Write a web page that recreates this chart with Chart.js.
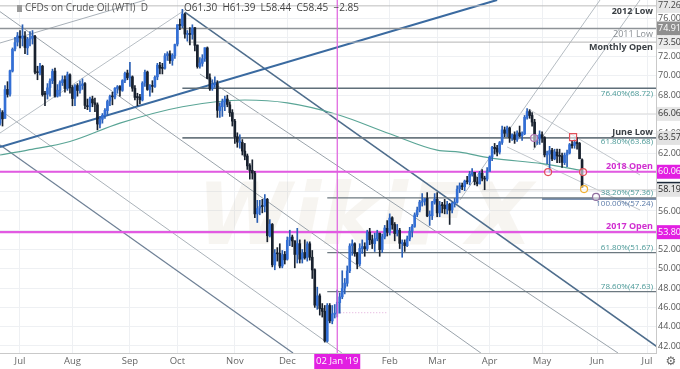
<!DOCTYPE html>
<html><head><meta charset="utf-8">
<script src="https://cdn.jsdelivr.net/npm/chart.js@4.4.1/dist/chart.umd.min.js"></script>
<style>html,body{margin:0;padding:0;background:#fff;}#wrap{width:680px;height:369px;position:relative;}</style>
</head><body><div id="wrap"><canvas id="c" width="680" height="369"></canvas></div>
<script>
// ---- DATA (daily OHLC; bar index 0 = 02 Jul 2018) ----
const firstBar = -9;
const jun18 = [[65.8,66.0,64.4,65.07],[65.1,66.6,64.9,66.22],[66.2,66.4,64.8,65.54],[65.6,69.0,65.6,68.58],[68.6,69.4,67.8,68.08],[68.1,70.6,67.9,70.53],[70.5,72.9,70.4,72.76],[72.8,74.0,72.6,73.45],[73.5,74.5,73.1,74.15]];
const jul18 = [[74.1,74.7,72.9,73.94],[73.9,75.3,73.1,74.14],[74.1,74.6,72.3,72.94],[72.9,74.0,72.2,73.80],[73.8,74.6,73.1,73.85],[73.9,74.7,73.3,74.11],[74.1,74.2,70.2,70.38],[70.4,71.0,69.6,70.33],[70.3,71.3,70.1,71.01],[71.0,71.1,67.9,68.06],[68.1,68.4,66.9,68.08],[68.1,69.2,67.6,68.76],[68.8,69.7,67.9,69.46],[69.5,70.7,69.2,70.46],[70.5,70.8,67.8,67.89],[67.9,69.1,67.8,68.52],[68.5,69.5,67.9,69.30],[69.3,70.0,69.0,69.61],[69.6,70.0,68.3,68.69],[68.7,70.4,68.5,70.13],[70.1,70.2,68.2,68.76]];
const aug18 = [[68.8,69.0,66.9,67.66],[67.7,69.1,66.9,68.96],[69.0,69.2,67.9,68.49],[68.5,69.5,68.2,69.01],[69.0,69.7,68.6,69.17],[69.2,69.3,66.6,66.94],[66.9,67.6,66.5,66.81],[66.8,67.8,66.3,67.63],[67.6,67.9,66.8,67.20],[67.2,67.7,66.3,67.04],[67.0,67.2,64.4,65.01],[65.0,65.8,64.6,65.46],[65.5,66.1,65.1,65.91],[65.9,66.6,65.6,66.43],[66.4,67.5,65.9,67.35],[67.4,68.0,66.9,67.86],[67.9,68.3,67.0,67.83],[67.8,68.8,67.6,68.72],[68.7,69.0,68.2,68.87],[68.9,69.0,67.9,68.53],[68.5,69.6,68.4,69.51],[69.5,70.4,69.3,70.25],[70.3,70.6,69.6,69.80]];
const sep18 = [[69.8,71.4,68.9,69.87],[69.9,70.0,68.4,68.72],[68.7,69.0,67.5,67.77],[67.8,68.2,66.9,67.75],[67.8,68.1,67.1,67.54],[67.5,69.4,67.4,69.25],[69.3,70.6,68.9,70.37],[70.4,70.5,68.5,68.59],[68.6,69.1,67.9,68.99],[69.0,69.5,68.3,68.91],[68.9,70.0,68.8,69.85],[69.9,71.3,69.6,71.12],[71.1,71.4,70.2,70.80],[70.8,71.3,70.2,70.78],[70.8,72.3,70.7,72.08],[72.1,72.5,71.6,72.28],[72.3,72.6,71.3,71.57],[71.6,72.3,71.1,72.12],[72.1,73.3,71.8,73.25]];
const oct18 = [[73.3,75.3,73.1,75.30],[75.3,75.9,74.8,75.23],[75.2,76.9,75.0,76.41],[76.4,76.5,73.9,74.33],[74.3,74.7,73.6,74.34],[74.3,75.0,73.2,74.29],[74.3,75.3,73.8,74.96],[75.0,75.0,72.6,73.17],[73.2,73.2,70.8,70.97],[71.0,71.9,70.8,71.34],[71.3,72.2,71.0,71.78],[71.8,72.9,71.5,72.92],[72.9,73.0,69.7,69.75],[69.8,70.2,68.5,68.65],[68.7,69.6,68.5,69.12],[69.1,69.9,68.8,69.17],[69.2,69.5,65.7,66.43],[66.4,67.2,65.7,66.82],[66.8,67.6,65.8,67.33],[67.3,67.9,66.4,67.59],[67.6,68.0,66.8,67.04],[67.0,67.3,65.8,66.18],[66.2,66.5,64.8,65.31]];
const nov18 = [[65.3,65.5,63.0,63.69],[63.7,64.1,62.6,63.14],[63.1,63.9,62.5,63.10],[63.1,63.4,61.8,62.21],[62.2,63.0,61.3,61.67],[61.7,61.9,60.3,60.67],[60.7,60.9,59.3,60.19],[60.2,61.3,59.3,59.93],[59.9,60.1,55.3,55.69],[55.7,57.1,54.8,56.25],[56.3,57.1,55.6,56.46],[56.5,57.2,55.8,56.46],[56.5,57.7,55.9,57.20],[57.2,57.3,52.8,53.43],[53.4,55.1,53.3,54.63],[54.6,54.7,50.2,50.42],[50.4,52.0,49.9,51.63],[51.6,52.2,50.8,51.56],[51.6,52.6,50.1,50.29],[50.3,51.9,50.1,51.45],[51.5,51.8,50.5,50.93]];
const dec18 = [[51.0,53.3,50.9,52.95],[53.0,54.0,52.4,53.25],[53.3,53.5,52.3,52.89],[52.9,52.9,50.1,51.49],[51.5,54.2,50.6,52.61],[52.6,53.0,50.6,51.00],[51.0,52.0,50.6,51.65],[51.7,53.0,51.0,51.15],[51.2,52.8,50.8,52.58],[52.6,52.8,50.9,51.20],[51.2,51.9,49.0,49.88],[49.9,50.0,46.0,46.24],[46.2,48.1,45.8,47.20],[47.2,47.4,45.2,45.88],[45.9,46.4,45.0,45.59],[45.6,46.2,42.4,42.53],[42.5,46.4,42.4,46.22],[46.2,46.4,44.4,44.61],[44.6,46.2,44.3,45.33],[45.3,46.3,44.9,45.41]];
const jan19 = [[45.4,47.8,45.0,46.54],[46.5,47.5,45.4,47.09],[47.1,49.8,46.9,47.96],[48.0,49.0,47.4,48.52],[48.5,50.3,48.2,49.78],[49.8,52.6,49.6,52.36],[52.4,53.0,51.4,52.59],[52.6,52.7,51.3,51.59],[51.6,51.7,50.0,50.51],[50.5,52.6,50.3,52.11],[52.1,53.0,51.6,52.31],[52.3,52.7,51.3,52.07],[52.1,54.0,51.9,53.80],[53.8,54.2,52.5,53.01],[53.0,53.5,52.1,52.62],[52.6,53.7,51.8,53.13],[53.1,54.0,52.9,53.69],[53.7,53.7,51.3,51.99],[52.0,53.6,51.7,53.31],[53.3,54.5,53.1,54.23],[54.2,55.0,53.4,53.79]];
const feb19 = [[53.8,55.7,53.5,55.26],[55.3,55.4,54.1,54.56],[54.6,54.8,52.9,53.66],[53.7,54.6,53.4,54.01],[54.0,54.2,52.1,52.64],[52.6,53.0,51.2,52.72],[52.7,53.0,51.8,52.41],[52.4,53.4,52.3,53.10],[53.1,54.3,52.9,53.90],[53.9,54.6,53.3,54.41],[54.4,55.8,54.3,55.59],[55.6,56.4,55.4,56.09],[56.1,57.1,55.9,56.92],[56.9,57.8,56.5,56.96],[57.0,57.3,56.6,57.26],[57.3,57.9,55.4,55.48],[55.5,56.0,54.5,55.50],[55.5,57.0,55.1,56.94],[56.9,57.8,56.7,57.22]];
const mar19 = [[57.2,57.9,55.4,55.80],[55.8,57.0,55.4,56.59],[56.6,56.9,55.8,56.56],[56.6,57.2,55.7,56.22],[56.2,57.0,55.7,56.66],[56.7,56.8,54.6,56.07],[56.1,56.9,55.8,56.79],[56.8,57.3,56.4,56.87],[56.9,58.6,56.8,58.26],[58.3,58.9,57.9,58.61],[58.6,58.9,58.2,58.52],[58.5,59.2,58.1,59.09],[59.1,59.6,58.8,59.03],[59.0,60.1,58.7,59.83],[59.8,60.4,59.6,59.98],[60.0,60.0,58.7,59.04],[59.0,59.5,58.6,58.82],[58.8,60.1,58.8,59.94],[59.9,60.3,59.1,59.41],[59.4,59.6,58.2,59.30],[59.3,60.5,59.1,60.14]];
const apr19 = [[60.1,61.7,60.1,61.59],[61.6,62.7,61.2,62.58],[62.6,63.0,61.9,62.46],[62.5,62.8,61.7,62.10],[62.1,63.2,61.9,63.08],[63.1,64.8,62.9,64.40],[64.4,64.7,63.7,64.05],[64.1,64.8,63.7,64.61],[64.6,64.7,63.1,63.58],[63.6,64.0,63.3,63.89],[63.9,64.2,63.0,63.40],[63.4,64.3,63.2,64.05],[64.1,64.8,63.7,63.76],[63.8,64.2,63.3,64.00],[64.0,65.9,63.9,65.70],[65.7,66.6,65.5,66.30],[66.3,66.5,65.6,65.89],[65.9,66.2,64.8,65.21],[65.2,65.5,62.6,63.30],[63.3,63.8,62.9,63.50],[63.5,64.3,62.9,63.91]];
const may19 = [[63.9,64.2,63.1,63.60],[63.6,63.7,61.6,61.81],[61.8,62.2,60.9,61.94],[61.9,62.7,60.0,62.25],[62.3,62.5,61.2,61.40],[61.4,62.4,61.3,62.12],[62.1,62.4,61.0,61.70],[61.7,62.4,61.0,61.66],[61.7,62.0,60.5,61.04],[61.0,62.0,60.8,61.78],[61.8,62.3,60.6,62.02],[62.0,63.0,61.9,62.87],[62.9,63.3,62.5,62.76],[62.8,63.4,62.5,63.10],[63.1,63.6,62.4,62.99],[63.0,63.1,61.4,61.42],[61.30,61.39,58.44,58.45]];
const headerValues = [61.30,61.39,58.44,58.45,-2.85];

const monthTicks  = [0,21,44,63,86,107,127,148,167,188,209,231,251];
const monthLabels = ['Jul','Aug','Sep','Oct','Nov','Dec',"02 Jan '19",'Feb','Mar','Apr','May','Jun','Jul'];
const priceTicks  = [42,44,46,48,50,52,54,56,58,60,62,64,66,68,70,72,74,76];

const levelValues    = [77.26,74.91,73.50,68.72,66.06,63.57,60.06,58.19,57.36,57.24,53.80,51.67,47.63];
const levelStartBars = [-9,-9,67,65,84,65,-9,185,123,209,-9,123,123];
const dottedLevel = [[127,45.45],[147,45.45]];

const sma200 = [[-8,61.8],[3,62.3],[20,63.2],[40,65.1],[65,66.8],[90,67.5],[107,67.2],[127,66.0],[148,64.0],[167,62.3],[176,62.1],[188,61.5],[209,60.9],[225,60.2]];

const trendA = [[-8,62.63],[191,77.87]];
const trendB = [[-8,73.41],[50,77.85]];
const trendC = [[66,76.62],[258.6,41.27]];
const trendD = [[-8,76.66],[184.5,41.27]];
const trendE = [[72,70.2],[239.4,41.27]];
const trendF = [[-8,66.46],[128.9,41.27]];
const trendG = [[-8,62.84],[109.3,41.27]];
const trendH = [[176.1,57.13],[232.2,77.87]];
const trendI = [[205.4,62.32],[248.2,77.87]];
const trendJ = [[204.2,66.46],[248.2,59.73]];
const trendK = [[195,62.63],[248.2,56.1]];
const trendL = [[-8,64.08],[66,76.83]];

const markerPoints = [[211.4,60.03],[225.4,60.03],[221.4,63.66],[205.8,63.56],[225.8,58.27],[230.6,57.45]];

// ---- build ----
const bars = [].concat(jun18,jul18,aug18,sep18,oct18,nov18,dec18,jan19,feb19,mar19,apr19,may19);
const candles = bars.map((b,i)=>({x:firstBar+i,o:b[0],h:b[1],l:b[2],c:b[3]}));
const UP='#336fd6', DOWN='#18212e';
const wickData = candles.map(k=>({x:k.x,y:[k.l,k.h],up:k.c>=k.o}));
const bodyData = candles.map(k=>({x:k.x,y:[k.o,k.c],up:k.c>=k.o}));

const levelStyle = [
 ['#bdbdbd',1],['#8e9398',1.5],['#b4b4b4',1],['#5f6e79',1.6],['#dcdcdc',1],['#6c7880',1.6],
 ['#e25ae2',2.2],['#d0d0d0',1],['#6c7880',1.3],['#506f98',1.6],['#e25ae2',2.2],['#6c7880',1.3],['#6c7880',1.3]
];
const lineDs = (pts,color,w,order,extra)=>Object.assign({type:'line',data:pts.map(p=>({x:p[0],y:p[1]})),borderColor:color,borderWidth:w,pointRadius:0,fill:false,order:order},extra||{});

const datasets = [];
datasets.push(lineDs(trendA,'#3a6aa0',2,20));
datasets.push(lineDs(trendB,'#a8b0b8',1,20));
datasets.push(lineDs(trendC,'#4e6d8c',1.5,20));
datasets.push(lineDs(trendD,'#9aa3ab',1,20));
datasets.push(lineDs(trendE,'#9aa3ab',1,20));
datasets.push(lineDs(trendF,'#aab2b9',1,20));
datasets.push(lineDs(trendG,'#6f8196',1.2,20));
datasets.push(lineDs(trendH,'#b5bcc2',1,20));
datasets.push(lineDs(trendI,'#b5bcc2',1,20));
datasets.push(lineDs(trendJ,'#c2c7cc',1,20));
datasets.push(lineDs(trendK,'#c2c7cc',1,20));
datasets.push(lineDs(trendL,'#b8bfc5',1,20));
datasets.push(lineDs(sma200,'#5aa596',1.2,15,{tension:0.4,cubicInterpolationMode:'monotone'}));
datasets.push(lineDs(dottedLevel,'#e0a8d8',1,12,{borderDash:[1,2]}));
levelValues.forEach((v,i)=>{
  datasets.push(lineDs([[levelStartBars[i],v],[260,v]],levelStyle[i][0],levelStyle[i][1],10));
});
datasets.push({type:'bar',data:wickData,barThickness:1,grouped:false,order:2,minBarLength:1,
  backgroundColor:c=>c.raw&&c.raw.up?'#2a5fb4':DOWN});
datasets.push({type:'bar',data:bodyData,barThickness:2,grouped:false,order:1,minBarLength:1,
  backgroundColor:c=>c.raw&&c.raw.up?UP:DOWN});

const FONT = "'Open Sans', 'DejaVu Sans', sans-serif";

const overlay = {
  id:'overlay',
  beforeDatasetsDraw(chart){
    const {ctx} = chart;
    ctx.save();
    ctx.font = "italic bold 86px 'DejaVu Sans', sans-serif";
    ctx.fillStyle = 'rgba(205,190,170,0.16)';
    ctx.textAlign='center'; ctx.textBaseline='middle';
    ctx.fillText('WikiFX', 365, 222);
    ctx.restore();
  },
  afterDatasetsDraw(chart){
    const {ctx,scales:{x,y},chartArea:a} = chart;
    ctx.save();
    const xv = x.getPixelForValue(monthTicks[6]);
    ctx.strokeStyle='#e060e0'; ctx.lineWidth=1.2;
    ctx.beginPath(); ctx.moveTo(xv,a.top); ctx.lineTo(xv,a.bottom); ctx.stroke();
    const mcol = ['#e0505a','#e0505a','#e0505a','#b070b0','#f0b030','#9070a0'];
    markerPoints.forEach((p,i)=>{
      const px=x.getPixelForValue(p[0]), py=y.getPixelForValue(p[1]);
      ctx.beginPath();
      if(i===2){ ctx.rect(px-3.5,py-3.5,7,7);} else { ctx.arc(px,py,3.5,0,Math.PI*2);}
      ctx.fillStyle='rgba(255,255,255,0.55)'; ctx.fill();
      ctx.strokeStyle=mcol[i]; ctx.lineWidth=1.2; ctx.stroke();
    });
    const R = a.right-3;
    const lab = (txt,val,pos,color,bold,size)=>{
      ctx.font = (bold?'bold ':'')+size+'px '+FONT;
      ctx.fillStyle=color; ctx.textAlign='right';
      ctx.textBaseline = pos==='above'?'bottom':'top';
      const py = y.getPixelForValue(val);
      ctx.fillText(txt,R,pos==='above'?py-1:py+1);
    };
    lab('2012 Low',levelValues[0],'below','#3a3f44',true,9);
    lab('2011 Low',levelValues[1],'below','#8a8f94',false,9);
    lab('Monthly Open',levelValues[2],'below','#3a3f44',true,9);
    lab('76.40%(68.72)',levelValues[3],'below','#4c9a98',false,8);
    lab('June Low',levelValues[5],'above','#3a3f44',true,9);
    lab('61.80%(63.68)',63.68,'below','#4c9a98',false,8);
    lab('2018 Open',levelValues[6],'above','#d030d0',true,9);
    lab('38.20%(57.36)',levelValues[8],'above','#4c9a98',false,8);
    lab('100.00%(57.24)',levelValues[9],'below','#5a7aa8',false,8);
    lab('2017 Open',levelValues[10],'above','#d030d0',true,9);
    lab('61.80%(51.67)',levelValues[11],'above','#4c9a98',false,8);
    lab('78.60%(47.63)',levelValues[12],'above','#4c9a98',false,8);
    ctx.restore();
  },
  afterDraw(chart){
    const {ctx,scales:{x,y},chartArea:a} = chart;
    ctx.save();
    const boxes = [
      [levelValues[0],'#e8e8e8','#444'],[levelValues[1],'#8f8f8f','#ffffff'],[levelValues[2],'#ececec','#333'],
      [levelValues[4],'#e6e6e6','#333'],[levelValues[5],'#e2e2e2','#333'],[levelValues[6],'#e21fe2','#ffffff'],
      [levelValues[7],'#e4e4e4','#222'],[levelValues[10],'#e21fe2','#ffffff']
    ];
    ctx.font = '9px '+FONT; ctx.textBaseline='middle'; ctx.textAlign='left';
    boxes.forEach(b=>{
      const py = y.getPixelForValue(b[0]);
      ctx.fillStyle=b[1]; ctx.fillRect(a.right+1,py-7,680-a.right,14);
      ctx.fillStyle=b[2]; ctx.fillText(b[0].toFixed(2),a.right+2,py);
    });
    const p58 = y.getPixelForValue(levelValues[7]);
    ctx.fillStyle='#1c2a3a'; ctx.fillRect(a.right+1,p58-8,680-a.right,1.5);
    const xv = x.getPixelForValue(monthTicks[6]);
    ctx.fillStyle='#e21fe2'; ctx.fillRect(xv-23,a.bottom+1,46,16);
    ctx.fillStyle='#fff'; ctx.textAlign='center'; ctx.font='9.5px '+FONT;
    ctx.fillText(monthLabels[6],xv,a.bottom+8.5);
    ctx.fillStyle='#9a9a9a'; ctx.fillRect(17,5,5,7);
    ctx.fillStyle='#555'; ctx.textAlign='left'; ctx.font='10px '+FONT; ctx.textBaseline='middle';
    ctx.fillText('CFDs on Crude Oil (WTI)  D',25,8.5);
    const h = headerValues;
    const hdr = 'O'+h[0].toFixed(2)+'  H'+h[1].toFixed(2)+'  L'+h[2].toFixed(2)+'  C'+h[3].toFixed(2)+'  \u2212'+Math.abs(h[4]).toFixed(2);
    ctx.fillStyle='#444'; ctx.fillText(hdr,184,8.5);
    ctx.fillStyle='#666'; ctx.font="12px 'DejaVu Sans'"; ctx.textAlign='center';
    ctx.fillText('\u2699',a.right+15,a.bottom+8.5);
    ctx.restore();
  }
};

new Chart(document.getElementById('c'),{
  type:'line',
  data:{datasets},
  options:{
    responsive:false, animation:false, devicePixelRatio:1,
    layout:{padding:0},
    plugins:{legend:{display:false},tooltip:{enabled:false}},
    scales:{
      x:{type:'linear',min:-8.006,max:254.6,offset:false,
         grid:{color:'#eef0f3',drawTicks:false,offset:false},
         border:{color:'#c9c9c9'},
         afterBuildTicks:s=>{s.ticks=monthTicks.map(v=>({value:v}));},
         afterFit:s=>{s.height=16;s.paddingLeft=0;s.paddingRight=0;},
         ticks:{autoSkip:false,maxRotation:0,padding:3,color:'#666',font:{size:9.5,family:FONT},
           callback:(v)=>{const i=monthTicks.indexOf(v);return i===6?'':monthLabels[i];}}},
      y:{type:'linear',position:'right',min:41.274,max:77.866,
         grid:{color:'#eef0f3',drawTicks:false},
         border:{color:'#c9c9c9'},
         afterBuildTicks:s=>{s.ticks=priceTicks.map(v=>({value:v}));},
         afterFit:s=>{s.width=24;s.paddingTop=0;s.paddingBottom=0;},
         ticks:{padding:2,color:'#555',font:{size:9,family:FONT},callback:v=>Number(v).toFixed(2)}}
    }
  },
  plugins:[overlay]
});
</script></body></html>
